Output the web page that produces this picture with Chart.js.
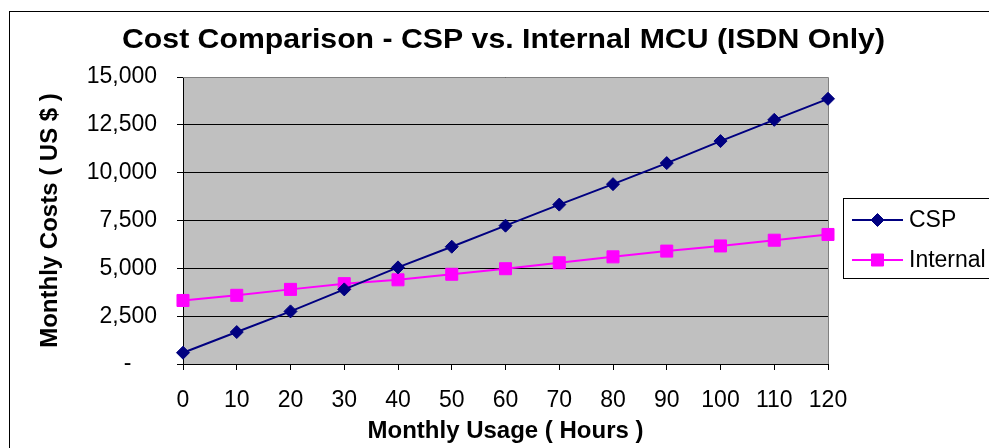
<!DOCTYPE html>
<html>
<head>
<meta charset="utf-8">
<script src="https://cdn.jsdelivr.net/npm/chart.js@4.4.1/dist/chart.umd.min.js"></script>
<style>
  html, body { margin: 0; padding: 0; background: #fff; }
  #wrap { width: 989px; height: 448px; position: relative; }
</style>
</head>
<body>
<div id="wrap"><canvas id="costChart" width="989" height="448"></canvas></div>
<script>
// chart data
const hours = ["0", "10", "20", "30", "40", "50", "60", "70", "80", "90", "100", "110", "120"];
const cspCosts = [590, 1670, 2750, 3900, 5050, 6130, 7230, 8330, 9400, 10500, 11650, 12760, 13860];
const internalCosts = [3320, 3590, 3900, 4200, 4400, 4690, 4980, 5290, 5600, 5900, 6170, 6470, 6770];
const yTicks = [0, 2500, 5000, 7500, 10000, 12500, 15000];
const chartTitle = "Cost Comparison - CSP vs. Internal MCU (ISDN Only)";

const FONT = "Arial, 'Liberation Sans', sans-serif";

// gray plot area + outer frame
const plotArea = {
    id: "plotArea",
    beforeDraw(chart) {
        const { ctx, chartArea: a } = chart;
        ctx.save();
        ctx.fillStyle = "#fff";
        ctx.fillRect(0, 0, chart.width, chart.height);
        ctx.strokeStyle = "#000";
        ctx.lineWidth = 1;
        ctx.strokeRect(9.5, 11.5, 1100, 600);
        ctx.fillStyle = "#C0C0C0";
        ctx.fillRect(a.left, a.top, a.right - a.left, a.bottom - a.top);
        ctx.restore();
    },
    beforeDatasetsDraw(chart) {
        const { ctx, chartArea: a } = chart;
        ctx.save();
        ctx.strokeStyle = "#808080";
        ctx.lineWidth = 1;
        ctx.beginPath();
        ctx.moveTo(a.left, a.top + 0.5);
        ctx.lineTo(a.right + 0.5, a.top + 0.5);
        ctx.lineTo(a.right + 0.5, a.bottom);
        ctx.stroke();
        ctx.restore();
    }
};

// title, a bit wider than plain Arial bold like the original
const wideTitle = {
    id: "wideTitle",
    afterDraw(chart) {
        const ctx = chart.ctx;
        const a = chart.chartArea;
        ctx.save();
        ctx.font = "bold 27px " + FONT;
        ctx.fillStyle = "#000";
        ctx.textAlign = "center";
        ctx.textBaseline = "alphabetic";
        const w = ctx.measureText(chartTitle).width;
        const sx = 763 / w;
        ctx.translate((a.left + a.right) / 2 - 2, 47.5);
        ctx.scale(sx, 1);
        ctx.fillText(chartTitle, 0, 0);
        ctx.restore();
    }
};

// excel-like legend box on the right
const boxLegend = {
    id: "boxLegend",
    afterDraw(chart) {
        const ctx = chart.ctx;
        const x0 = 843, y0 = 198;
        ctx.save();
        ctx.strokeStyle = "#000";
        ctx.lineWidth = 1;
        ctx.strokeRect(x0 + 0.5, y0 + 0.5, 200, 80);
        chart.data.datasets.forEach((ds, i) => {
            const cy = y0 + 22 + i * 40;
            ctx.strokeStyle = ds.borderColor;
            ctx.lineWidth = 2;
            ctx.beginPath();
            ctx.moveTo(852, cy);
            ctx.lineTo(903, cy);
            ctx.stroke();
            ctx.fillStyle = ds.pointBackgroundColor;
            ctx.strokeStyle = ds.pointBorderColor;
            ctx.lineWidth = 1;
            Chart.helpers.drawPoint(ctx, {
                pointStyle: ds.pointStyle,
                radius: ds.pointRadius,
                rotation: 0,
                borderWidth: 1
            }, 877.5, cy);
            ctx.fillStyle = "#000";
            ctx.font = "23px " + FONT;
            ctx.textBaseline = "middle";
            ctx.textAlign = "left";
            ctx.fillText(ds.label, 909, cy + 1);
        });
        ctx.restore();
    }
};

new Chart(document.getElementById("costChart"), {
    type: "line",
    data: {
        labels: hours,
        datasets: [{
            label: "CSP",
            data: cspCosts,
            borderColor: "#000080",
            borderWidth: 2,
            pointStyle: "rectRot",
            pointRadius: 6.5,
            pointBackgroundColor: "#000080",
            pointBorderColor: "#000080",
            pointBorderWidth: 1,
            tension: 0
        }, {
            label: "Internal",
            data: internalCosts,
            borderColor: "#FF00FF",
            borderWidth: 2,
            pointStyle: "rect",
            pointRadius: 8.5,
            pointBackgroundColor: "#FF00FF",
            pointBorderColor: "#FF00FF",
            pointBorderWidth: 1,
            tension: 0
        }]
    },
    options: {
        responsive: false,
        animation: false,
        layout: { padding: { left: 34, right: 161, top: 77, bottom: 0 } },
        plugins: {
            legend: { display: false },
            tooltip: { enabled: false },
            title: { display: false }
        },
        scales: {
            x: {
                type: "category",
                offset: false,
                grid: { drawOnChartArea: false, drawTicks: true, tickLength: 6, color: "#000" },
                border: { color: "#000", width: 1 },
                ticks: { color: "#000", padding: 17, maxRotation: 0, autoSkip: false,
                         font: { family: FONT, size: 23 } },
                title: {
                    display: true,
                    text: "Monthly Usage ( Hours )",
                    color: "#000",
                    font: { family: FONT, size: 24, weight: "bold", lineHeight: 1.2 },
                    padding: { top: 2, bottom: 2 }
                },
                afterFit(scale) { scale.height = 84; }
            },
            y: {
                min: 0,
                max: 15000,
                afterBuildTicks(scale) { scale.ticks = yTicks.map(v => ({ value: v })); },
                grid: { drawTicks: true, tickLength: 6, color: "#000" },
                border: { color: "#000", width: 1 },
                ticks: {
                    color: "#000",
                    padding: 20,
                    font: { family: FONT, size: 23 },
                    callback: v => v === 0 ? "-    " : v.toLocaleString("en-US")
                },
                title: {
                    display: true,
                    text: "Monthly Costs ( US $ )",
                    color: "#000",
                    font: { family: FONT, size: 24, weight: "bold", lineHeight: 1.2 },
                    padding: { top: 2, bottom: 2 }
                },
                afterFit(scale) { scale.width = 149; }
            }
        }
    },
    plugins: [plotArea, wideTitle, boxLegend]
});
</script>
</body>
</html>
